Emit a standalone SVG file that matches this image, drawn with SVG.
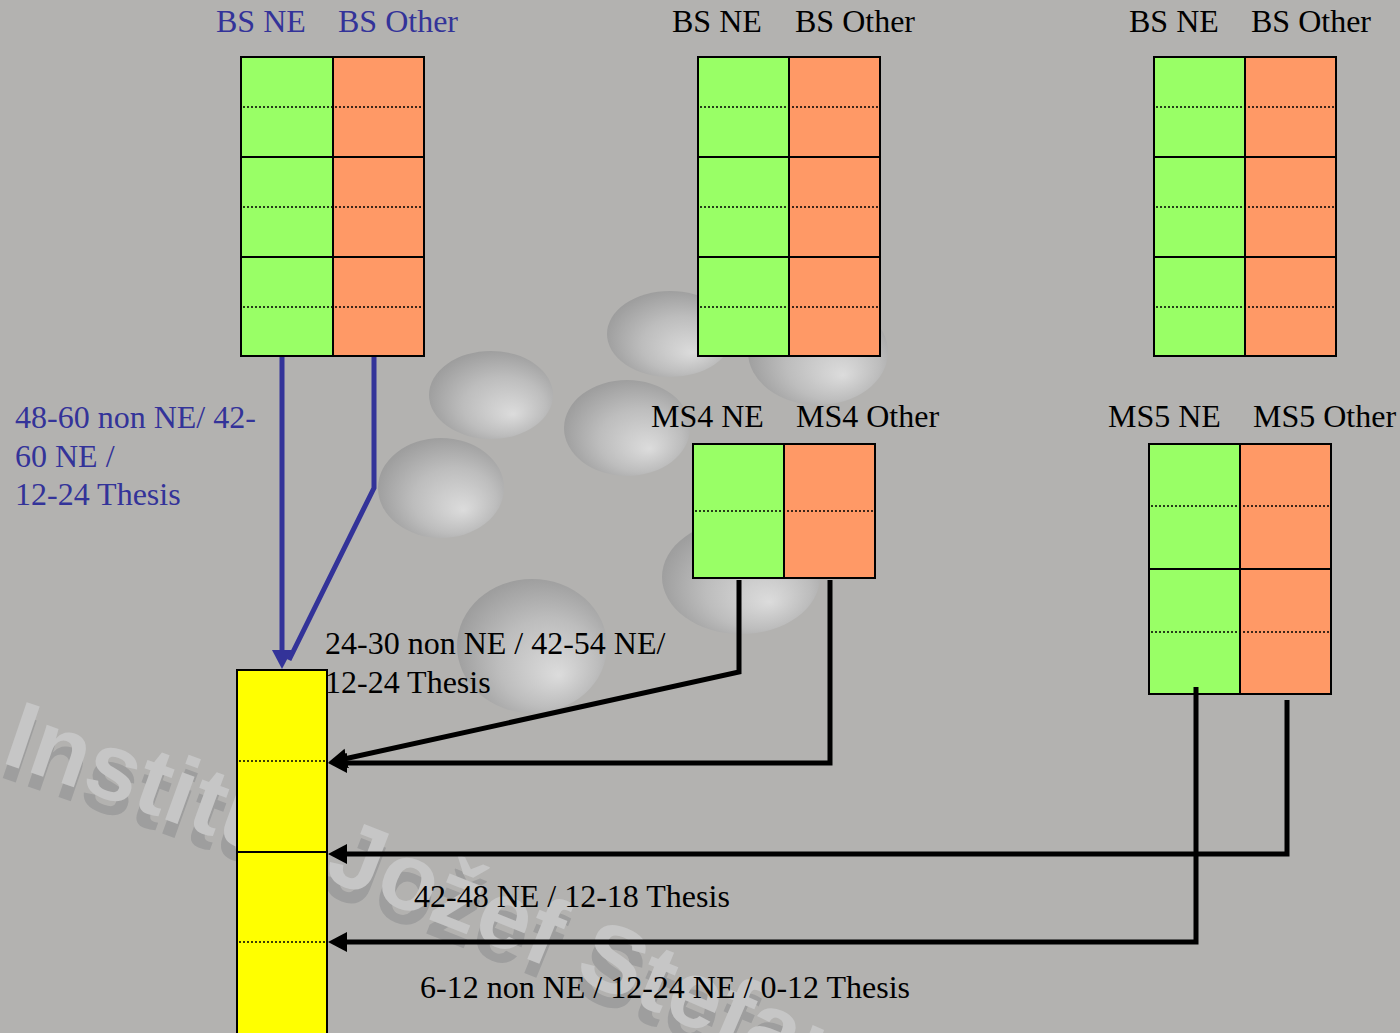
<svg xmlns="http://www.w3.org/2000/svg" width="1400" height="1033" viewBox="0 0 1400 1033">
<style>
.t{font-family:"Liberation Serif","Times New Roman",serif;font-size:32px;fill:#000}
.b{fill:#333399}
.g{fill:#99ff66;stroke:none}
.o{fill:#ff9966;stroke:none}
.y{fill:#ffff00;stroke:none}
.frame{fill:none;stroke:#000;stroke-width:2}
.sol{stroke:#000;stroke-width:2;fill:none}
.dot{stroke:#000;stroke-width:1.5;stroke-dasharray:2 2;fill:none}
.cb{stroke:#000;stroke-width:5;fill:none;stroke-linejoin:miter}
.cbl{stroke:#333399;stroke-width:5;fill:none;stroke-linejoin:miter}
.wm{font-family:"Liberation Sans",Arial,sans-serif;font-weight:bold;font-size:95px}
</style>
<defs>
<radialGradient id="blob" cx="0.55" cy="0.55" r="0.6" fx="0.68" fy="0.72">
<stop offset="0" stop-color="#dcdcdc"/>
<stop offset="0.55" stop-color="#bdbdbd"/>
<stop offset="1" stop-color="#9a9a9a"/>
</radialGradient>
<marker id="ak" markerUnits="userSpaceOnUse" markerWidth="22" markerHeight="22" refX="12" refY="10" orient="auto">
<path d="M0,0 L19,10 L0,20 z" fill="#000"/>
</marker>
<marker id="ab" markerUnits="userSpaceOnUse" markerWidth="22" markerHeight="22" refX="12" refY="10" orient="auto">
<path d="M0,0 L19,10 L0,20 z" fill="#333399"/>
</marker>
<path id="wmp" d="M 0 762 Q 500 930 1100 1210"/>
<path id="wmp2" d="M -3 776 Q 497 944 1097 1224"/>
</defs>
<rect x="0" y="0" width="1400" height="1033" fill="#b3b2b0"/>
<g id="background">
<ellipse cx="491" cy="395" rx="62" ry="44" fill="url(#blob)"/>
<ellipse cx="627" cy="428" rx="63" ry="48" fill="url(#blob)"/>
<ellipse cx="441" cy="488" rx="63" ry="50" fill="url(#blob)"/>
<ellipse cx="670" cy="334" rx="63" ry="43" fill="url(#blob)"/>
<ellipse cx="818" cy="352" rx="70" ry="53" fill="url(#blob)"/>
<ellipse cx="741" cy="577" rx="79" ry="57" fill="url(#blob)"/>
<ellipse cx="532" cy="646" rx="75" ry="67" fill="url(#blob)"/>
<text class="wm" fill="#9e9e9e"><textPath href="#wmp2">Institut Jožef Stefan</textPath></text>
<text class="wm" fill="#c6c6c6"><textPath href="#wmp">Institut Jožef Stefan</textPath></text>
</g>
<g id="bs-left">
<rect class="g" x="241" y="57" width="92" height="299"/>
<rect class="o" x="333" y="57" width="91" height="299"/>
<path class="dot" d="M243 107H423M243 207H423M243 307H423"/>
<path class="sol" d="M241 157H424M241 257H424M333 57V356"/>
<rect class="frame" x="241" y="57" width="183" height="299"/>
<text class="t b" x="216" y="32">BS NE</text>
<text class="t b" x="338" y="32">BS Other</text>
</g>
<g id="bs-middle">
<rect class="g" x="698" y="57" width="91" height="299"/>
<rect class="o" x="789" y="57" width="91" height="299"/>
<path class="dot" d="M700 107H879M700 207H879M700 307H879"/>
<path class="sol" d="M698 157H880M698 257H880M789 57V356"/>
<rect class="frame" x="698" y="57" width="182" height="299"/>
<text class="t" x="672" y="32">BS NE</text>
<text class="t" x="795" y="32">BS Other</text>
</g>
<g id="bs-right">
<rect class="g" x="1154" y="57" width="91" height="299"/>
<rect class="o" x="1245" y="57" width="91" height="299"/>
<path class="dot" d="M1156 107H1335M1156 207H1335M1156 307H1335"/>
<path class="sol" d="M1154 157H1336M1154 257H1336M1245 57V356"/>
<rect class="frame" x="1154" y="57" width="182" height="299"/>
<text class="t" x="1129" y="32">BS NE</text>
<text class="t" x="1251" y="32">BS Other</text>
</g>
<g id="ms4">
<rect class="g" x="693" y="444" width="91" height="134"/>
<rect class="o" x="784" y="444" width="91" height="134"/>
<path class="dot" d="M695 511H874"/>
<path class="sol" d="M784 444V578"/>
<rect class="frame" x="693" y="444" width="182" height="134"/>
<text class="t" x="651" y="427">MS4 NE</text>
<text class="t" x="796" y="427">MS4 Other</text>
</g>
<g id="ms5">
<rect class="g" x="1149" y="444" width="91" height="250"/>
<rect class="o" x="1240" y="444" width="91" height="250"/>
<path class="dot" d="M1151 506H1330M1151 632H1330"/>
<path class="sol" d="M1149 569H1331M1240 444V694"/>
<rect class="frame" x="1149" y="444" width="182" height="250"/>
<text class="t" x="1108" y="427">MS5 NE</text>
<text class="t" x="1253" y="427">MS5 Other</text>
</g>
<g id="ms-target">
<rect class="y" x="237" y="670" width="90" height="370"/>
<path class="dot" d="M239 761H326M239 942H326"/>
<path class="sol" d="M237 852H327"/>
<rect class="frame" x="237" y="670" width="90" height="370"/>
</g>
<g id="connectors">
<path class="cbl" d="M374 357V488L289 660"/>
<path class="cbl" d="M282 357V662" marker-end="url(#ab)"/>
<path class="cb" d="M739 580V672L335 761" marker-end="url(#ak)"/>
<path class="cb" d="M830 580V763H335" marker-end="url(#ak)"/>
<path class="cb" d="M1287 700V854H335" marker-end="url(#ak)"/>
<path class="cb" d="M1196 687V942H335" marker-end="url(#ak)"/>
</g>
<g id="labels">
<text class="t b" x="15" y="428">48-60 non NE/ 42-</text>
<text class="t b" x="15" y="467">60 NE /</text>
<text class="t b" x="15" y="505">12-24 Thesis</text>
<text class="t" x="325" y="654">24-30 non NE / 42-54 NE/</text>
<text class="t" x="325" y="693">12-24 Thesis</text>
<text class="t" x="414" y="907">42-48 NE / 12-18 Thesis</text>
<text class="t" x="420" y="998">6-12 non NE / 12-24 NE / 0-12 Thesis</text>
</g>
</svg>
